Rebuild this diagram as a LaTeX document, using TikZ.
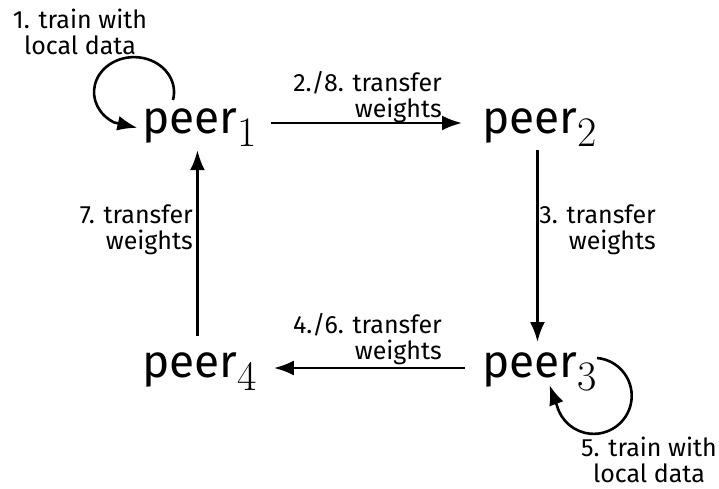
\documentclass[tikz,border=0pt]{standalone}
\usepackage{fontspec}
\newfontfamily\fira{Fira Sans}
\usetikzlibrary{arrows.meta}
\newcommand{\peersub}[1]{\raisebox{-13pt}{\rmfamily\fontsize{42}{42}\selectfont #1}}
\begin{document}
\begin{tikzpicture}[x=1pt,y=1pt,
  peer/.style={inner sep=0pt, anchor=base west, font=\fira\fontsize{46}{46}\selectfont},
  lbl/.style={inner sep=0pt, font=\fira\fontsize{25}{26}\selectfont},
  arr/.style={line width=2.6pt, -{Latex[length=20pt,width=15pt]}}]
\useasboundingbox (0,0) rectangle (719,489);

% the four peers
\node[peer] (p1) at (142,355) {peer\peersub{1}};
\node[peer] (p2) at (482,355) {peer\peersub{2}};
\node[peer] (p3) at (482,111) {peer\peersub{3}};
\node[peer] (p4) at (142,111) {peer\peersub{4}};

% weight transfers around the ring
\draw[arr] ([shift={(14pt,11pt)}]p1.base east) -- ([shift={(-20pt,11pt)}]p2.base west);
\draw[arr] ([shift={(-2pt,-3pt)}]p2.south) -- ([shift={(-2pt,11pt)}]p3.north);
\draw[arr] ([shift={(-17pt,10pt)}]p3.base west) -- ([shift={(17pt,10pt)}]p4.base east);
\draw[arr] ([shift={(-2pt,17pt)}]p4.north) -- ([shift={(-2pt,-3pt)}]p1.south);

% local training loops
\draw[arr] ([shift={(31pt,34pt)}]p1.base west)
  arc[start angle=-13, end angle=240, x radius=40pt, y radius=35pt] -- ++(-13:24pt);
\draw[arr] ([shift={(115pt,20pt)}]p3.base west)
  arc[start angle=85, end angle=-165, radius=38pt] -- ++(110:22pt);

% step labels
\node[lbl, align=center, anchor=north] (t1) at (80,480) {1. train with\\local data};
\node[lbl, align=right, anchor=north east] (t2) at (442,418) {2./8. transfer\\weights};
\node[lbl, align=right, anchor=north east] (t3) at (656,284) {3. transfer\\weights};
\node[lbl, align=right, anchor=north east] (t4) at (442,176) {4./6. transfer\\weights};
\node[lbl, align=center, anchor=north] (t5) at (649,52) {5. train with\\local data};
\node[lbl, align=right, anchor=north east] (t7) at (193,284) {7. transfer\\weights};
\end{tikzpicture}
\end{document}
